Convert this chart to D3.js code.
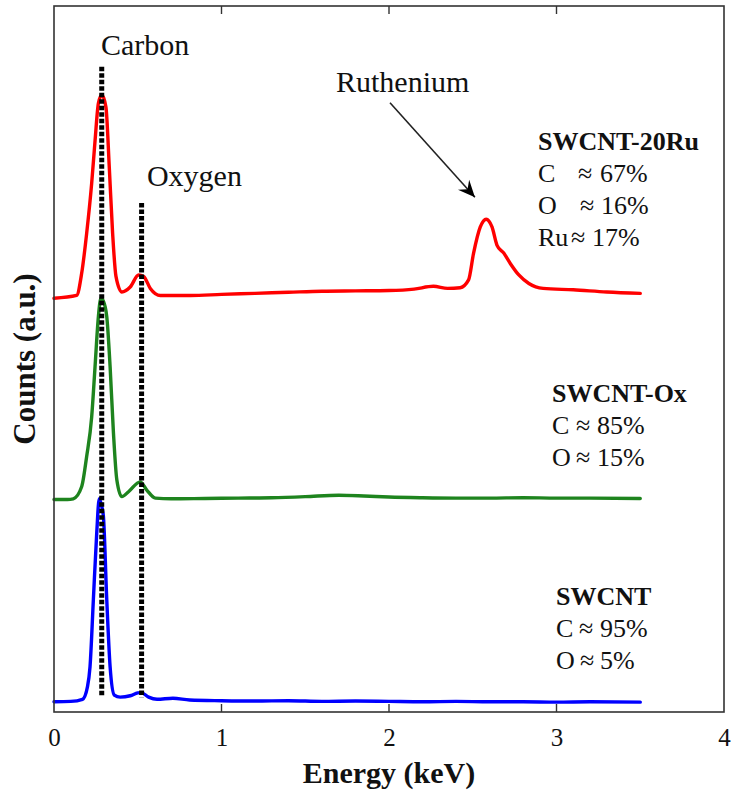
<!DOCTYPE html>
<html>
<head>
<meta charset="utf-8">
<script src="https://cdn.jsdelivr.net/npm/d3@7"></script>
<style>
  body { margin: 0; background: #fff; }
</style>
</head>
<body>
<svg id="chart"></svg>
<script>
const WIDTH = 735;
const HEIGHT = 797;
const SERIF = "'Liberation Serif', 'Times New Roman', serif";

// energy (keV), counts (a.u., already stacked as plotted)
const swcnt = [
  [0.00, 1.45], [0.10, 1.5], [0.17, 1.8], [0.20, 3.6], [0.215, 6.4], [0.235, 15.9],
  [0.255, 25.3], [0.27, 30.2], [0.283, 29.3], [0.295, 27.7], [0.315, 15.9], [0.335, 6.4],
  [0.36, 2.4], [0.395, 2.1], [0.455, 2.3], [0.50, 2.7], [0.52, 2.75], [0.565, 2.1],
  [0.615, 1.8], [0.71, 1.95], [0.81, 1.7], [1.0, 1.6], [1.2, 1.55], [1.4, 1.6],
  [1.6, 1.5], [1.8, 1.55], [2.0, 1.5], [2.2, 1.45], [2.4, 1.5], [2.6, 1.45],
  [2.8, 1.45], [3.0, 1.4], [3.2, 1.45], [3.5, 1.4],
];

const swcntOx = [
  [0.00, 30.1], [0.08, 30.1], [0.115, 30.2], [0.165, 31.9], [0.195, 36.2], [0.225, 41.8],
  [0.245, 48.9], [0.265, 56.0], [0.28, 58.6], [0.295, 58.2], [0.315, 56.0], [0.335, 48.9],
  [0.355, 39.5], [0.375, 32.9], [0.405, 30.5], [0.445, 31.2], [0.515, 32.6], [0.555, 31.4],
  [0.605, 30.3], [0.7, 30.2], [0.9, 30.25], [1.1, 30.3], [1.3, 30.35], [1.5, 30.5],
  [1.7, 30.7], [1.85, 30.6], [2.0, 30.45], [2.2, 30.35], [2.4, 30.3], [2.6, 30.3],
  [2.8, 30.35], [3.0, 30.3], [3.2, 30.3], [3.5, 30.25],
];

const swcntRu = [
  [0.0, 58.6], [0.135, 59.0], [0.165, 62.1], [0.195, 67.8], [0.225, 74.9], [0.245, 80.9],
  [0.265, 86.2], [0.285, 87.4], [0.31, 85.7], [0.33, 77.2], [0.35, 67.8], [0.37, 61.7],
  [0.405, 59.5], [0.455, 60.2], [0.505, 61.9], [0.535, 61.7], [0.575, 60.0], [0.635, 59.0],
  [0.815, 59.0], [1.0, 59.15], [1.2, 59.3], [1.4, 59.45], [1.6, 59.6], [1.8, 59.65],
  [2.0, 59.7], [2.15, 59.9], [2.265, 60.3], [2.35, 60.0], [2.425, 60.1], [2.475, 61.2],
  [2.505, 65.0], [2.545, 68.7], [2.58, 69.8], [2.615, 68.7], [2.645, 66.1], [2.685, 65.0],
  [2.725, 63.5], [2.775, 61.9], [2.835, 60.7], [2.92, 60.0], [3.1, 59.8], [3.3, 59.5],
  [3.5, 59.3],
];

const spectra = [
  { name: 'SWCNT', color: '#0000ff', values: swcnt },
  { name: 'SWCNT-Ox', color: '#1e841e', values: swcntOx },
  { name: 'SWCNT-20Ru', color: '#ff0000', values: swcntRu },
];

// element lines: energy, bottom, top (a.u.)
const elementLines = [
  { label: 'Carbon', energy: 0.285, from: 2.1, to: 91.4 },
  { label: 'Oxygen', energy: 0.523, from: 2.1, to: 72.1 },
];

const xTicks = [0, 1, 2, 3, 4];

// composition labels: element, percentage
const compositions = [
  { title: 'SWCNT-20Ru', lines: [['C', '67%'], ['O', '16%'], ['Ru', '17%']] },
  { title: 'SWCNT-Ox', lines: [['C', '85%'], ['O', '15%']] },
  { title: 'SWCNT', lines: [['C', '95%'], ['O', '5%']] },
];

const margin = { top: 6, right: 11, bottom: 85, left: 54 };

const svg = d3.select('#chart')
  .attr('width', WIDTH)
  .attr('height', HEIGHT);

const x = d3.scaleLinear()
  .domain([0, 4])
  .range([margin.left, WIDTH - margin.right]);

const y = d3.scaleLinear()
  .domain([0, 100])
  .range([HEIGHT - margin.bottom, margin.top]);

const defs = svg.append('defs');
defs.append('marker')
  .attr('id', 'arrow')
  .attr('markerUnits', 'userSpaceOnUse')
  .attr('viewBox', '-18 -8 20 16')
  .attr('markerWidth', 20)
  .attr('markerHeight', 16)
  .attr('refX', 0)
  .attr('refY', 0)
  .attr('orient', 'auto')
  .append('path')
  .attr('d', 'M0,0L-17,-7.5L-11,0L-17,7.5Z')
  .attr('fill', '#000');

const addText = (xPos, yPos, size, str, weight = 'normal') => svg.append('text')
  .attr('x', xPos)
  .attr('y', yPos)
  .attr('font-size', size)
  .attr('fill', '#111')
  .style('font-family', SERIF)
  .style('font-weight', weight)
  .text(str);

// spectra
const line = d3.line()
  .x(d => x(d[0]))
  .y(d => y(d[1]))
  .curve(d3.curveMonotoneX);

svg.selectAll('.spectrum')
  .data(spectra)
  .enter()
  .append('path')
  .attr('class', 'spectrum')
  .attr('d', d => line(d.values))
  .attr('fill', 'none')
  .attr('stroke', d => d.color)
  .attr('stroke-width', 3.4)
  .attr('stroke-linejoin', 'round')
  .attr('stroke-linecap', 'round');

// dotted element markers
svg.selectAll('.element')
  .data(elementLines)
  .enter()
  .append('line')
  .attr('class', 'element')
  .attr('x1', d => x(d.energy))
  .attr('x2', d => x(d.energy))
  .attr('y1', d => y(d.to))
  .attr('y2', d => y(d.from))
  .attr('stroke', '#000')
  .attr('stroke-width', 5)
  .attr('stroke-dasharray', '4.5,2');

addText(x(0.28), 55, 30, 'Carbon');
addText(x(0.555), 186, 30, 'Oxygen');
addText(336, 92, 30, 'Ruthenium');

svg.append('line')
  .attr('x1', x(2.006))
  .attr('y1', y(86.3))
  .attr('x2', x(2.513))
  .attr('y2', y(72.9))
  .attr('stroke', '#222')
  .attr('stroke-width', 1.6)
  .attr('marker-end', 'url(#arrow)');

// composition blocks: element x, ≈ x, value x per line
const blockPos = [
  { x: 538, y: 150, approxX: [578, 580, 571], valueX: [600, 601, 592] },
  { x: 552, y: 402, approxX: [576, 576], valueX: [597, 597] },
  { x: 556, y: 605, approxX: [579, 580], valueX: [600, 600] },
];

compositions.forEach((c, i) => {
  const pos = blockPos[i];
  addText(pos.x, pos.y, 26, c.title, 'bold');
  c.lines.forEach((l, j) => {
    const yLine = pos.y + 32 * (j + 1);
    addText(pos.x, yLine, 26, l[0]);
    addText(pos.approxX[j], yLine, 26, '≈');
    addText(pos.valueX[j], yLine, 26, l[1]);
  });
});

// frame and axes
const plotBottom = y(0);
const plotTop = y(100);

svg.append('rect')
  .attr('x', x(0))
  .attr('y', plotTop)
  .attr('width', x(4) - x(0))
  .attr('height', plotBottom - plotTop)
  .attr('fill', 'none')
  .attr('stroke', '#333')
  .attr('stroke-width', 1.6);

const xAxis = d3.axisBottom(x)
  .tickValues(xTicks)
  .tickSize(0)
  .tickPadding(16)
  .tickFormat(d3.format('d'));

const gx = svg.append('g')
  .attr('transform', `translate(0,${plotBottom})`)
  .call(xAxis);
gx.select('.domain').remove();
gx.selectAll('text')
  .attr('font-size', 25)
  .attr('fill', '#111')
  .style('font-family', SERIF);

// inward ticks top and bottom
const innerTicks = xTicks.slice(1, 4);
svg.selectAll('.tick-bottom')
  .data(innerTicks)
  .enter()
  .append('line')
  .attr('x1', d => x(d))
  .attr('x2', d => x(d))
  .attr('y1', plotBottom)
  .attr('y2', plotBottom - 8)
  .attr('stroke', '#333')
  .attr('stroke-width', 1.4);

svg.selectAll('.tick-top')
  .data(innerTicks)
  .enter()
  .append('line')
  .attr('x1', d => x(d))
  .attr('x2', d => x(d))
  .attr('y1', plotTop)
  .attr('y2', plotTop + 8)
  .attr('stroke', '#333')
  .attr('stroke-width', 1.4);

addText((x(0) + x(4)) / 2, 783, 30, 'Energy (keV)', 'bold')
  .attr('text-anchor', 'middle');

addText(0, 0, 31, 'Counts (a.u.)', 'bold')
  .attr('transform', `translate(35,${(plotTop + plotBottom) / 2}) rotate(-90)`)
  .attr('text-anchor', 'middle');
</script>
</body>
</html>
